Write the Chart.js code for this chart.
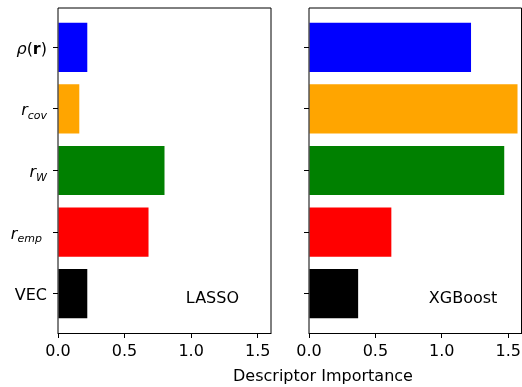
<!DOCTYPE html>
<html>
<head>
<meta charset="utf-8">
<script src="https://cdn.jsdelivr.net/npm/chart.js@4.4.1/dist/chart.umd.min.js"></script>
<style>
  html, body { margin: 0; padding: 0; background: #fff; }
  body { width: 522px; height: 387px; position: relative; overflow: hidden; font-family: 'DejaVu Sans', sans-serif; }
  canvas { position: absolute; top: 0; }
  #xlabel { position: absolute; left: 223px; width: 200px; top: 368px; line-height: 16px; font-size: 16px;
            text-align: center; color: #000; white-space: nowrap; }
</style>
</head>
<body>
<canvas id="lasso" width="280" height="387" style="left:0"></canvas>
<canvas id="xgb" width="242" height="387" style="left:280px"></canvas>
<div id="xlabel">Descriptor Importance</div>
<script>
// Descriptors (top to bottom) and their importances for each model
const descriptors = ['ρ(r)', 'r_cov', 'r_W', 'r_emp ', 'VEC'];
const barColors = ['blue', 'orange', 'green', 'red', 'black'];
const lassoImportance = [0.22, 0.16, 0.80, 0.68, 0.22];
const xgboostImportance = [1.22, 1.57, 1.47, 0.62, 0.37];
const xTicks = [0, 0.5, 1.0, 1.5];
const modelNames = ['LASSO', 'XGBoost'];

const FONT = "'DejaVu Sans', sans-serif";

// Split a descriptor name into styled text runs (italic symbols, subscripts, bold vector)
function labelRuns(label) {
  const trailing = label.endsWith(' ');
  const s = label.trim();
  let runs;
  if (s === 'ρ(r)') {
    runs = [{ t: 'ρ', f: 'italic 16px' }, { t: '(', f: '16px' }, { t: 'r', f: 'bold 16px' }, { t: ')', f: '16px' }];
  } else if (s.includes('_')) {
    const [base, sub] = s.split('_');
    runs = [{ t: base, f: 'italic 16px' }, { t: sub, f: 'italic 11px', dy: 3.5 }];
  } else {
    runs = [{ t: s, f: '16px' }];
  }
  if (trailing) runs.push({ t: ' ', f: '16px' });
  return runs;
}

// Axes frame, descriptor tick labels and the model name inside each panel
const panelDecor = {
  id: 'panelDecor',
  afterDatasetsDraw(chart, args, opts) {
    const { ctx, chartArea: a, scales } = chart;
    ctx.save();
    ctx.strokeStyle = '#000';
    ctx.lineWidth = 1;
    ctx.beginPath();
    ctx.moveTo(a.left, a.bottom);
    ctx.lineTo(a.left, a.top);
    ctx.lineTo(a.right, a.top);
    ctx.lineTo(a.right, a.bottom);
    ctx.stroke();
    ctx.beginPath();
    ctx.moveTo(a.left - 0.5, a.bottom + 0.5);
    ctx.lineTo(a.right + 0.5, a.bottom + 0.5);
    ctx.stroke();

    ctx.fillStyle = '#000';
    ctx.textBaseline = 'alphabetic';
    if (opts.showLabels) {
      const rightX = a.left - 11;
      descriptors.forEach((label, i) => {
        const y = scales.y.getPixelForValue(i) + 6.5;
        const runs = labelRuns(label);
        let w = 0;
        runs.forEach(r => { ctx.font = r.f + ' ' + FONT; r.w = ctx.measureText(r.t).width; w += r.w; });
        let x = rightX - w;
        ctx.textAlign = 'left';
        runs.forEach(r => {
          ctx.font = r.f + ' ' + FONT;
          ctx.fillText(r.t, x, y + (r.dy || 0));
          x += r.w;
        });
      });
    }
    ctx.font = '16px ' + FONT;
    ctx.textAlign = 'center';
    ctx.fillText(opts.name, scales.x.getPixelForValue(1.16), scales.y.getPixelForValue(4) + 9.7);
    ctx.restore();
  }
};

function makeChart(id, values, name, axisWidth, padRight, showLabels) {
  return new Chart(document.getElementById(id), {
    type: 'bar',
    data: {
      datasets: [{
        data: values.map((v, i) => ({ x: v, y: i })),
        backgroundColor: barColors,
        borderWidth: 0,
        barPercentage: 0.8,
        categoryPercentage: 1
      }]
    },
    options: {
      indexAxis: 'y',
      responsive: false,
      animation: false,
      events: [],
      layout: { padding: { top: 8, right: padRight, left: 0, bottom: 0 } },
      plugins: {
        legend: { display: false },
        tooltip: { enabled: false },
        panelDecor: { name, showLabels }
      },
      scales: {
        x: {
          type: 'linear', min: 0, max: 1.6, offset: false,
          afterBuildTicks: s => { s.ticks = xTicks.map(v => ({ value: v })); },
          afterFit: s => { s.height = 54; s.paddingLeft = 0; s.paddingRight = 0; },
          ticks: { callback: v => v.toFixed(1), padding: 4, color: '#000', font: { family: FONT, size: 16 },
                   maxRotation: 0, autoSkip: false },
          grid: { offset: false, drawOnChartArea: false, drawTicks: true, tickLength: 5, tickColor: '#000' },
          border: { display: false }
        },
        y: {
          type: 'linear', reverse: true, min: -0.64, max: 4.64, offset: false,
          afterBuildTicks: s => { s.ticks = descriptors.map((_, i) => ({ value: i })); },
          afterFit: s => { s.width = axisWidth; s.paddingTop = 0; s.paddingBottom = 0; },
          ticks: { display: false },
          grid: { offset: false, drawOnChartArea: false, drawTicks: true, tickLength: 5, tickColor: '#000' },
          border: { display: false }
        }
      }
    },
    plugins: [panelDecor]
  });
}

makeChart('lasso', lassoImportance, modelNames[0], 58, 9, true);
makeChart('xgb', xgboostImportance, modelNames[1], 29, 0.5, false);
</script>
</body>
</html>
